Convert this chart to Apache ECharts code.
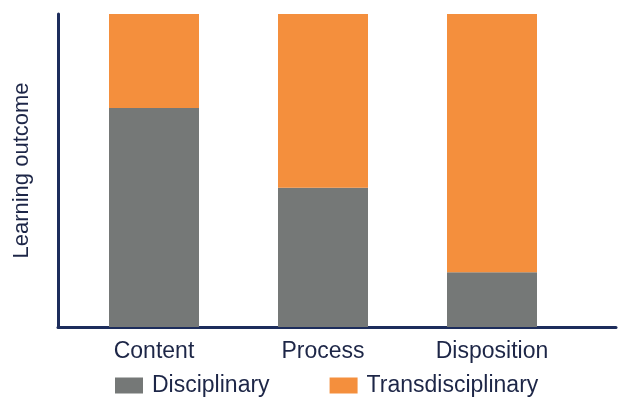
<!DOCTYPE html>
<html>
<head>
<meta charset="utf-8">
<script src="https://cdn.jsdelivr.net/npm/echarts@6/dist/echarts.min.js"></script>
<style>html,body{margin:0;padding:0;background:#fff;}#c{width:619px;height:398px;}</style>
</head>
<body>
<div id="c"></div>
<script>
const categories = ['Content', 'Process', 'Disposition'];
const disciplinary = [70, 44.5, 17.5];
const transdisciplinary = [30, 55.5, 82.5];
const seriesNames = ['Disciplinary', 'Transdisciplinary'];

const chart = echarts.init(document.getElementById('c'));
const font = 'Liberation Sans, Arial, sans-serif';
const axisColor = '#1d2d5c';
const textColor = '#1d2647';
chart.setOption({
  animation: false,
  grid: [
    {left: 69.5, width: 507, top: 14, bottom: 71},
    {left: 58, right: 3, top: 14, bottom: 71}
  ],
  legend: {
    left: 115, top: 374, padding: 0,
    itemWidth: 28, itemHeight: 16, itemGap: 60,
    icon: 'rect',
    textStyle: {fontFamily: font, fontSize: 23, color: textColor, padding: [0, 0, 0, 4]},
    data: seriesNames
  },
  xAxis: [
    {type: 'category', gridIndex: 0, data: categories,
     axisLine: {show: false}, axisTick: {show: false},
     axisLabel: {fontFamily: font, fontSize: 23, color: textColor, margin: 13}},
    {type: 'value', gridIndex: 1, min: 0, max: 1,
     axisLine: {show: true, onZero: false, lineStyle: {color: axisColor, width: 3}},
     axisTick: {show: false}, axisLabel: {show: false}, splitLine: {show: false}}
  ],
  yAxis: [
    {type: 'value', gridIndex: 0, min: 0, max: 100, show: false},
    {type: 'value', gridIndex: 1, min: 0, max: 100,
     name: 'Learning outcome', nameLocation: 'middle', nameGap: 25,
     nameTextStyle: {fontFamily: font, fontSize: 22, color: textColor},
     axisLine: {show: true, lineStyle: {color: axisColor, width: 3}},
     axisTick: {show: false}, axisLabel: {show: false}, splitLine: {show: false}}
  ],
  series: [
    {name: seriesNames[0], type: 'bar', stack: 'a', xAxisIndex: 0, yAxisIndex: 0,
     barWidth: 90, data: disciplinary,
     itemStyle: {color: '#757877'}},
    {name: seriesNames[1], type: 'bar', stack: 'a', xAxisIndex: 0, yAxisIndex: 0,
     barWidth: 90, data: transdisciplinary,
     itemStyle: {color: '#f48f3d'}}
  ]
});
</script>
</body>
</html>
